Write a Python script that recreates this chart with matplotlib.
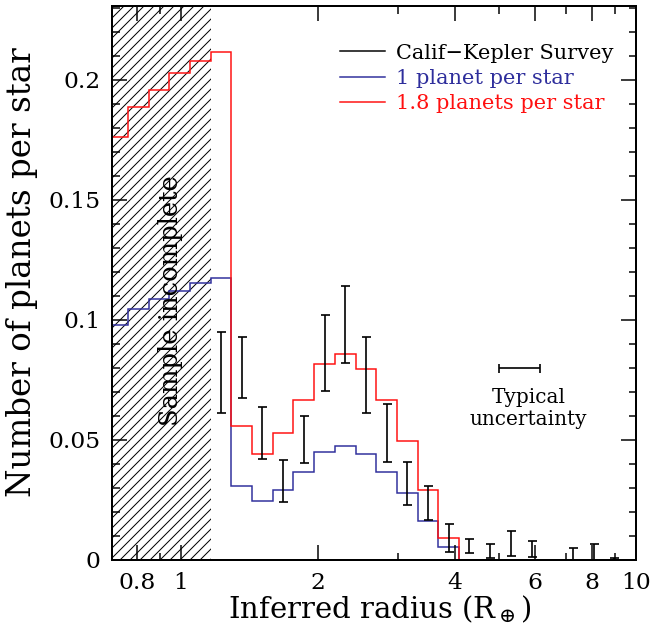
import matplotlib
matplotlib.use("Agg")
import matplotlib.pyplot as plt
from matplotlib.ticker import FixedLocator, FixedFormatter, MultipleLocator
from matplotlib.lines import Line2D

plt.rcParams['font.family'] = ['DejaVu Serif']
plt.rcParams['mathtext.fontset'] = 'dejavuserif'
plt.rcParams['hatch.linewidth'] = 0.6

# histogram bin edges (Earth radii)
edges = [0.688, 0.764, 0.848, 0.942, 1.046, 1.161, 1.290, 1.432, 1.590,
         1.766, 1.961, 2.178, 2.418, 2.685, 2.982, 3.311, 3.677, 4.083]

# model histograms
one_planet = [0.098, 0.1047, 0.1086, 0.1122, 0.1155, 0.1176, 0.0308, 0.0244, 0.0293,
              0.0368, 0.0451, 0.0476, 0.0443, 0.0368, 0.0278, 0.0164, 0.0053]
multi_planet = [0.1764, 0.1886, 0.1957, 0.2028, 0.2081, 0.2115, 0.0558, 0.0442, 0.0529,
                0.0665, 0.0815, 0.0858, 0.0794, 0.0665, 0.0497, 0.0293, 0.0093]

# Calif-Kepler survey points (bin centres, lower / upper ends of bars)
ck_r = [1.224, 1.359, 1.509, 1.676, 1.861, 2.067, 2.295, 2.549, 2.830, 3.143,
        3.490, 3.876, 4.303, 4.778, 5.306, 5.892, 7.265, 8.068, 8.959]
ck_lo = [0.0611, 0.0674, 0.0421, 0.0240, 0.0403, 0.0704, 0.0822, 0.0611, 0.0410, 0.0229,
         0.0168, 0.0032, 0.0028, 0.0007, 0.0017, 0.0014, 0.0, 0.0, 0.0]
ck_hi = [0.0951, 0.0930, 0.0639, 0.0417, 0.0600, 0.1022, 0.1142, 0.0930, 0.0650, 0.0408,
         0.0310, 0.0150, 0.0088, 0.0065, 0.0121, 0.0081, 0.0049, 0.0065, 0.0008]

# typical radius uncertainty bar
typ_r = 5.55
typ_y = 0.08
typ_err = [[0.55], [0.60]]

incomplete = (0.705, 1.161)

blue = '#2e2e9c'
red = '#ff1010'

fig = plt.figure(figsize=(652 / 120, 628 / 120), dpi=120)
ax = fig.add_axes([0.1718, 0.1083, 0.8037, 0.8821])

ax.axvspan(incomplete[0], incomplete[1], facecolor='none', edgecolor='k',
           hatch='////', linewidth=0, zorder=0)

ax.stairs(one_planet, edges, color=blue, lw=0.9, baseline=0)
ax.stairs(multi_planet, edges, color=red, lw=0.9, baseline=0)

ck_y = [(a + b) / 2 for a, b in zip(ck_lo, ck_hi)]
ck_e = [(b - a) / 2 for a, b in zip(ck_lo, ck_hi)]
ax.errorbar(ck_r, ck_y, yerr=ck_e, fmt='none', ecolor='k', elinewidth=1.0,
            capsize=2.7, capthick=1.0)

ax.errorbar([typ_r], [typ_y], xerr=typ_err, fmt='none', ecolor='k',
            elinewidth=1.0, capsize=2.7, capthick=1.0)
ax.text(5.8, 0.0633, "Typical\nuncertainty", ha='center', va='center',
        fontsize=12, linespacing=1.2)

ax.text(0.946, 0.108, "Sample incomplete", rotation=90, ha='center',
        va='center', fontsize=15.5)

ax.set_xscale('log')
ax.set_xlim(0.705, 10)
ax.set_ylim(0, 0.2308)

xmaj = [0.8, 1, 2, 4, 6, 8, 10]
ax.xaxis.set_major_locator(FixedLocator(xmaj))
ax.xaxis.set_major_formatter(FixedFormatter(["0.8", "1", "2", "4", "6", "8", "10"]))
ax.xaxis.set_minor_locator(FixedLocator([0.9, 3, 5, 7, 9]))
ax.xaxis.set_minor_formatter(FixedFormatter([]))
ax.yaxis.set_major_locator(FixedLocator([0, 0.05, 0.1, 0.15, 0.2]))
ax.yaxis.set_major_formatter(FixedFormatter(["0", "0.05", "0.1", "0.15", "0.2"]))
ax.yaxis.set_minor_locator(MultipleLocator(0.01))

ax.tick_params(which='both', direction='in', top=True, right=True, width=0.9)
ax.tick_params(which='major', length=9, labelsize=14, pad=7)
ax.tick_params(which='minor', length=4.5)
for s in ax.spines.values():
    s.set_linewidth(1.2)

ax.set_xlabel(r"Inferred radius (R$_\oplus$)", fontsize=17.5)
ax.set_ylabel("Number of planets per star", fontsize=19.5)
ax.xaxis.set_label_coords(0.512, -0.06)
ax.yaxis.set_label_coords(-0.142, 0.52)

handles = [Line2D([], [], color='k', lw=0.9),
           Line2D([], [], color=blue, lw=0.9),
           Line2D([], [], color=red, lw=0.9)]
labels = ["Calif\u2212Kepler Survey", "1 planet per star", "1.8 planets per star"]
ax.legend(handles, labels, loc='upper left', bbox_to_anchor=(0.435, 0.932),
          frameon=False, fontsize=12.5, handlelength=2.15, handletextpad=0.55,
          labelspacing=0.3, borderpad=0, borderaxespad=0, labelcolor='linecolor')

fig.savefig("out.png", dpi=120)
